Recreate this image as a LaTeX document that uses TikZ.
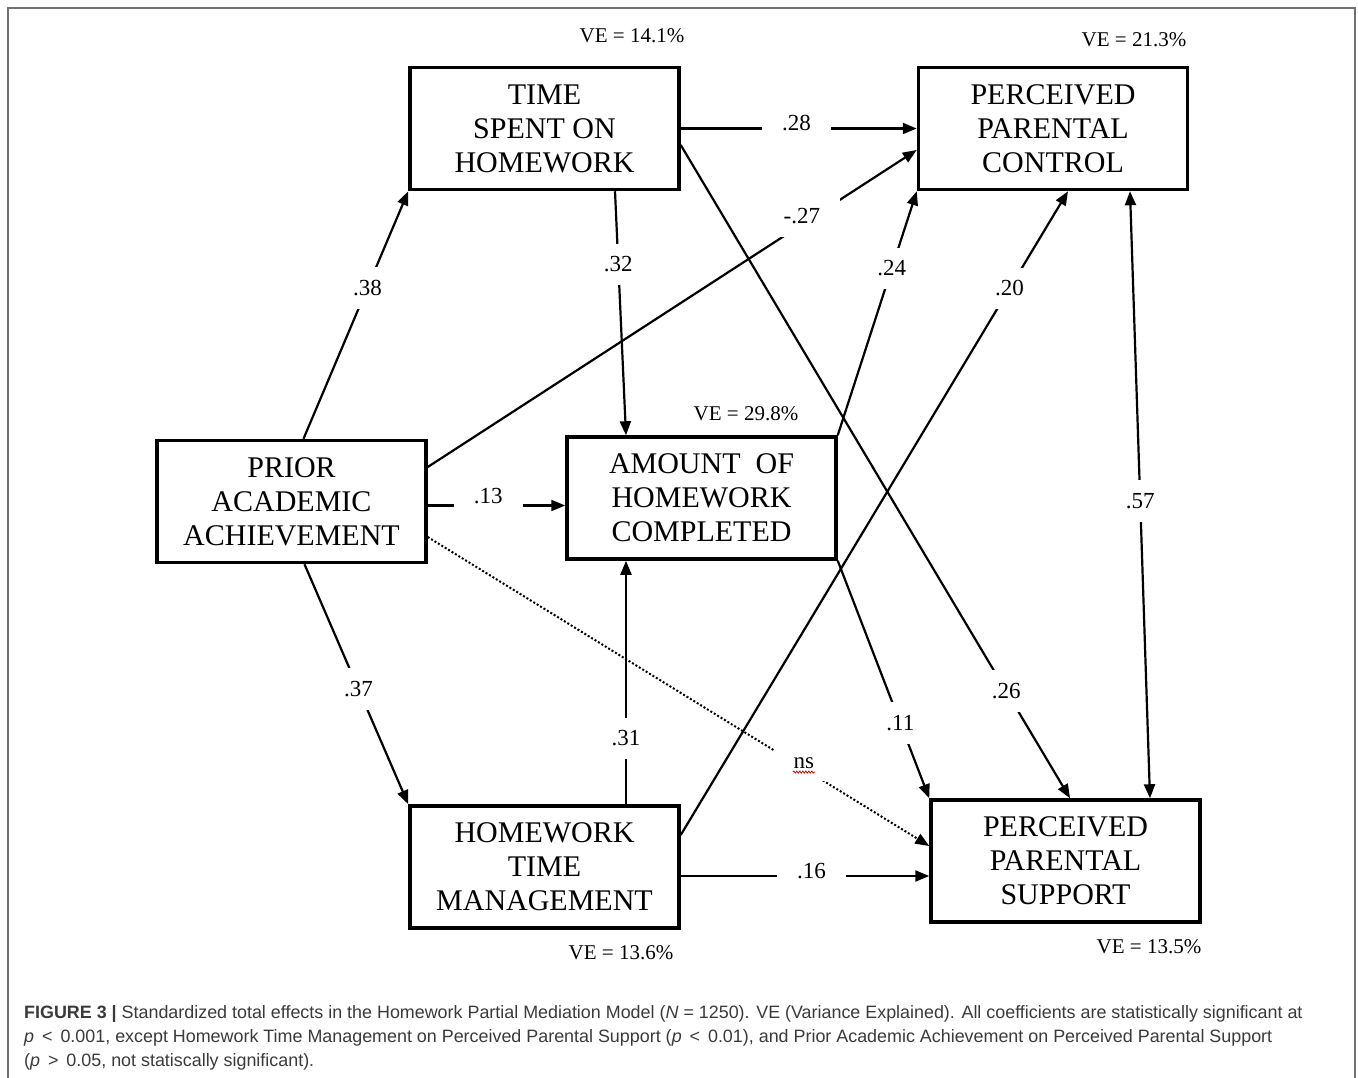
\documentclass[tikz,border=0pt]{standalone}
\usepackage{fontspec}
\setmainfont{Liberation Serif}
\newfontfamily\captionfont{Liberation Sans}
\usepackage{xcolor}
\usepackage{tikz}
\usetikzlibrary{positioning,arrows.meta,calc,decorations.pathmorphing}
\definecolor{framegray}{HTML}{707070}
\definecolor{captiongray}{HTML}{3A3A3A}

\begin{document}
\begin{tikzpicture}[x=1pt, y=-1pt,
  >={Triangle[length=14pt,width=11pt]},
  varbox/.style={draw, line width=3.5pt, fill=white, minimum width=269pt,
    minimum height=122pt, inner sep=0pt, align=center,
    font=\fontsize{30}{34}\selectfont},
  effect/.style={line width=2.2pt, ->},
  coef/.style={fill=white, inner xsep=20pt, inner ysep=13pt,
    font=\fontsize{23}{23}\selectfont},
  velabel/.style={inner sep=0pt, font=\fontsize{21}{21}\selectfont},
  capline/.style={anchor=base west, inner sep=0pt, text=captiongray,
    font=\captionfont\fontsize{17.9}{24}\selectfont}]

  \useasboundingbox (0,0) rectangle (1358,1078);
  % ---- frame ----
  \draw[framegray, line width=1.5pt] (8,1078) -- (8,8) -- (1355,8) -- (1355,1078);

  % ---- variables ----
  \node[varbox] (TSH) at (544.5,128.5) {TIME\\SPENT ON\\HOMEWORK};
  \node[varbox] (PPC) at (1053,128.5) {PERCEIVED\\PARENTAL\\CONTROL};
  \node[varbox] (PAA) at (291.5,501.5) {PRIOR\\ACADEMIC\\ACHIEVEMENT};
  \node[varbox] (AHC) at (701.5,498) {AMOUNT~ OF\\HOMEWORK\\COMPLETED};
  \node[varbox] (HTM) at (544.5,867) {HOMEWORK\\TIME\\MANAGEMENT};
  \node[varbox] (PPS) at (1065.5,861) {PERCEIVED\\PARENTAL\\SUPPORT};

  % Variance explained
  \foreach \name/\x/\y/\val in {ve1/632/36/14.1, ve2/1134/40/21.3,
      ve3/746/414/29.8, ve4/621/953/13.6, ve5/1149/947/13.5}
    \node[velabel] (\name) at (\x,\y) {VE = \val\%};

  % ---- paths from prior achievement ----
  \draw[effect] ($(PAA.north)+(12,0)$) -- node[coef, pos=0.61] (c38) {.38} (TSH.south west);
  \draw[effect] ($(PAA.south)+(13,0)$) -- node[coef, pos=0.52] (c37) {.37} (HTM.north west);
  \draw[effect] ($(PAA.east)+(0,4)$) -- node[coef, pos=0.44, yshift=9pt] (c13) {.13} ($(AHC.west)+(0,7.5)$);
  \draw[effect] ($(PAA.east)+(0,-34.5)$) -- node[coef, pos=0.765, yshift=8pt] (c27) {-.27} ($(PPC.west)+(0,21.5)$);
  \draw[line width=2pt, dash pattern=on 2pt off 2pt, ->] ($(PAA.east)+(0,35.5)$)
    -- node[coef, pos=0.75, yshift=6pt] (ns) {ns} ($(PPS.west)+(0,-15)$);
  \draw[red!80!black, line width=0.8pt, decorate,
    decoration={snake, amplitude=1pt, segment length=3pt}]
    ($(ns.base)+(-11,4)$) -- ($(ns.base)+(11,4)$);

  % ---- paths from time spent ----
  \draw[effect] ($(TSH.south)+(70.5,0)$) -- node[coef, pos=0.30] (c32) {.32} ($(AHC.north)+(-75.5,0)$);
  \draw[effect] (TSH.east) -- node[coef, pos=0.49, yshift=5pt] (c28) {.28} (PPC.west);
  \draw[effect] ($(TSH.east)+(0,16.5)$) -- node[coef, pos=0.836] (c26) {.26} ($(PPS.north)+(4.5,0)$);

  % ---- paths from amount completed ----
  \draw[effect] (AHC.north east) -- node[coef, pos=0.684] (c24) {.24} (PPC.south west);
  \draw[effect] (AHC.south east) -- node[coef, pos=0.684] (c11) {.11} (PPS.north west);

  % ---- paths from time management ----
  \draw[effect] ($(HTM.north)+(81.5,0)$) -- node[coef, pos=0.27] (c31) {.31} ($(AHC.south)+(-75.5,0)$);
  \draw[effect] ($(HTM.east)+(0,9)$) -- node[coef, pos=0.526, yshift=5pt] (c16) {.16} ($(PPS.west)+(0,15)$);
  \draw[effect] ($(HTM.east)+(0,-32)$) -- node[coef, pos=0.849] (c20) {.20} ($(PPC.south)+(15,0)$);

  % covariance
  \draw[line width=2.2pt, <->] ($(PPC.south)+(77,0)$) -- node[coef, pos=0.51] (c57) {.57} ($(PPS.north)+(84.5,0)$);

  % ---- caption ----
  \node[capline] (cap1) at (24,1018) {\textbf{FIGURE 3 |} Standardized total effects in the Homework Partial Mediation Model (\textit{N} = 1250). VE (Variance Explained). All coefficients are statistically significant at};
  \node[capline] (cap2) at (24,1042) {\textit{p}\,\ <\ \,0.001, except Homework Time Management on Perceived Parental Support (\textit{p}\,\ <\ \,0.01), and Prior Academic Achievement on Perceived Parental Support};
  \node[capline] (cap3) at (24,1066) {(\textit{p}\,\ >\ \,0.05, not statiscally significant).};
\end{tikzpicture}
\end{document}
